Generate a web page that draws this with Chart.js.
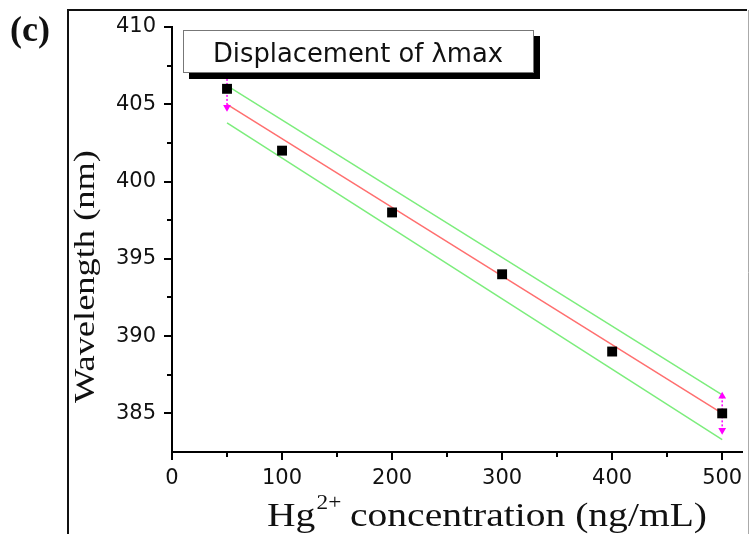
<!DOCTYPE html>
<html>
<head>
<meta charset="utf-8">
<script src="https://cdn.jsdelivr.net/npm/chart.js@4"></script>
<style>
  html, body { margin: 0; padding: 0; background: #fff; overflow: hidden; }
  #chart { position: absolute; left: 0; top: 0; }
</style>
</head>
<body>
<canvas id="chart" width="749" height="534"></canvas>
<script>
// measured points
const concentration = [50, 100, 200, 300, 400, 500]
const wavelength = [406, 402, 398, 394, 389, 385]

// fit line and confidence band ends
const fitX = [50, 500]
const fitLine = [405.0, 385.0]
const upperBand = [406.2, 386.2]
const lowerBand = [403.8, 383.3]

// magenta error markers at the two ends
const errX = [50, 500]
const errUp = [406.9, 386.1]
const errDown = [404.8, 383.9]

const xTicks = [0, 100, 200, 300, 400, 500]
const xMinor = [50, 150, 250, 350, 450]
const yTicks = [385, 390, 395, 400, 405, 410]
const yMinor = [387.5, 392.5, 397.5, 402.5, 407.5]

const legendText = "Displacement of \u03bbmax"
const panelLabel = "(c)"
const yTitle = "Wavelength (nm)"
const xTitleParts = ["Hg", "2+", " concentration (ng/mL)"]

var Figure = (() => {
  let tickFont = { family: "DejaVu Sans", size: 21 }

  function pairs(xs, ys) {
    return xs.map((x, i) => ({ x: x, y: ys[i] }))
  }

  function errorSets() {
    return errX.map((x, i) => ({
      data: [{ x: x, y: errUp[i] }, { x: x, y: errDown[i] }],
      showLine: true,
      borderColor: "#ff00ff",
      backgroundColor: "#ff00ff",
      borderWidth: 1.5,
      borderDash: [2, 2],
      pointStyle: "triangle",
      pointRotation: [0, 180],
      pointRadius: 3,
      order: 1
    }))
  }

  // draws text squeezed or stretched to a target width
  function fitText(ctx, text, x, y, width) {
    let w = ctx.measureText(text).width
    ctx.save()
    ctx.translate(x, y)
    ctx.scale(width / w, 1)
    ctx.fillText(text, 0, 0)
    ctx.restore()
  }

  const decorations = {
    id: "decorations",
    beforeDraw(chart) {
      let ctx = chart.ctx
      ctx.save()
      // outer frame of the panel
      ctx.strokeStyle = "#111"
      ctx.lineWidth = 2
      ctx.beginPath()
      ctx.moveTo(68, 545)
      ctx.lineTo(68, 10)
      ctx.lineTo(747, 10)
      ctx.stroke()
      ctx.strokeStyle = "#aaa"
      ctx.lineWidth = 1
      ctx.beginPath()
      ctx.moveTo(748.5, 10)
      ctx.lineTo(748.5, 545)
      ctx.stroke()
      ctx.restore()
    },
    afterDraw(chart) {
      let ctx = chart.ctx
      let xs = chart.scales.x, ys = chart.scales.y
      ctx.save()

      // minor ticks
      ctx.strokeStyle = "#000"
      ctx.lineWidth = 2
      ctx.beginPath()
      xMinor.forEach(v => {
        let px = Math.round(xs.getPixelForValue(v))
        ctx.moveTo(px, xs.top)
        ctx.lineTo(px, xs.top + 5)
      })
      yMinor.forEach(v => {
        let py = Math.round(ys.getPixelForValue(v))
        ctx.moveTo(ys.right, py)
        ctx.lineTo(ys.right - 5, py)
      })
      ctx.stroke()

      // legend box with shadow
      ctx.fillStyle = "#000"
      ctx.fillRect(189, 36, 351, 43)
      ctx.fillStyle = "#fff"
      ctx.fillRect(183, 30, 351, 43)
      ctx.strokeStyle = "#777"
      ctx.lineWidth = 1
      ctx.strokeRect(183.5, 30.5, 350, 42)
      ctx.fillStyle = "#111"
      ctx.font = "26px 'DejaVu Sans'"
      ctx.textBaseline = "alphabetic"
      ctx.textAlign = "left"
      fitText(ctx, legendText, 213, 62, 290)

      // panel label
      ctx.font = "bold 35px 'Liberation Serif'"
      fitText(ctx, panelLabel, 10, 41, 40)

      // y title, rotated
      ctx.font = "30px 'Liberation Serif'"
      let w = ctx.measureText(yTitle).width
      ctx.save()
      ctx.translate(94, 403)
      ctx.rotate(-Math.PI / 2)
      ctx.scale(253 / w, 1)
      ctx.fillText(yTitle, 0, 0)
      ctx.restore()

      // x title with superscript
      let big = "34px 'Liberation Serif'", small = "20px 'Liberation Serif'"
      ctx.font = big
      let w0 = ctx.measureText(xTitleParts[0]).width
      let w2 = ctx.measureText(xTitleParts[2]).width
      ctx.font = small
      let w1 = ctx.measureText(xTitleParts[1]).width
      let sx = 440 / (w0 + w1 + w2)
      ctx.save()
      ctx.translate(267, 526)
      ctx.scale(sx, 1)
      ctx.font = big
      ctx.fillText(xTitleParts[0], 0, 0)
      ctx.font = small
      ctx.fillText(xTitleParts[1], w0 + 1, -17)
      ctx.font = big
      ctx.fillText(xTitleParts[2], w0 + w1, 0)
      ctx.restore()

      ctx.restore()
    }
  }

  function render() {
    let ctx = document.getElementById("chart").getContext("2d")
    let config = {
      type: "scatter",
      data: {
        datasets: [
          {
            data: pairs(concentration, wavelength),
            pointStyle: "rect",
            pointRadius: 7,
            backgroundColor: "#000",
            borderColor: "#000",
            borderWidth: 0,
            order: 0
          },
          ...errorSets(),
          {
            data: pairs(fitX, fitLine),
            showLine: true,
            pointRadius: 0,
            borderColor: "#ff6f6f",
            borderWidth: 1.5,
            order: 2
          },
          {
            data: pairs(fitX, upperBand),
            showLine: true,
            pointRadius: 0,
            borderColor: "#7ced7c",
            borderWidth: 1.5,
            order: 3
          },
          {
            data: pairs(fitX, lowerBand),
            showLine: true,
            pointRadius: 0,
            borderColor: "#7ced7c",
            borderWidth: 1.5,
            order: 3
          }
        ]
      },
      options: {
        responsive: false,
        animation: false,
        devicePixelRatio: 1,
        layout: { padding: { left: 0, right: 1, top: 27, bottom: 0 } },
        plugins: {
          legend: { display: false },
          tooltip: { enabled: false },
          title: { display: false }
        },
        scales: {
          x: {
            type: "linear",
            min: 0,
            max: 518,
            afterBuildTicks: s => { s.ticks = xTicks.map(v => ({ value: v })) },
            afterFit: s => { s.height = 82 },
            ticks: { font: tickFont, color: "#111", padding: 6, maxRotation: 0, autoSkip: false },
            grid: { display: true, drawOnChartArea: false, drawTicks: true, tickLength: 8, color: "#000", lineWidth: 2 },
            border: { display: true, color: "#000", width: 2 }
          },
          y: {
            type: "linear",
            min: 382.5,
            max: 410,
            afterBuildTicks: s => { s.ticks = yTicks.map(v => ({ value: v })) },
            afterFit: s => { s.width = 172 },
            ticks: { font: tickFont, color: "#111", padding: 8, autoSkip: false },
            grid: { display: true, drawOnChartArea: false, drawTicks: true, tickLength: 8, color: "#000", lineWidth: 2 },
            border: { display: true, color: "#000", width: 2 }
          }
        }
      },
      plugins: [decorations]
    }
    new Chart(ctx, config)
  }

  return { render }
})()

Figure.render()
</script>
</body>
</html>
